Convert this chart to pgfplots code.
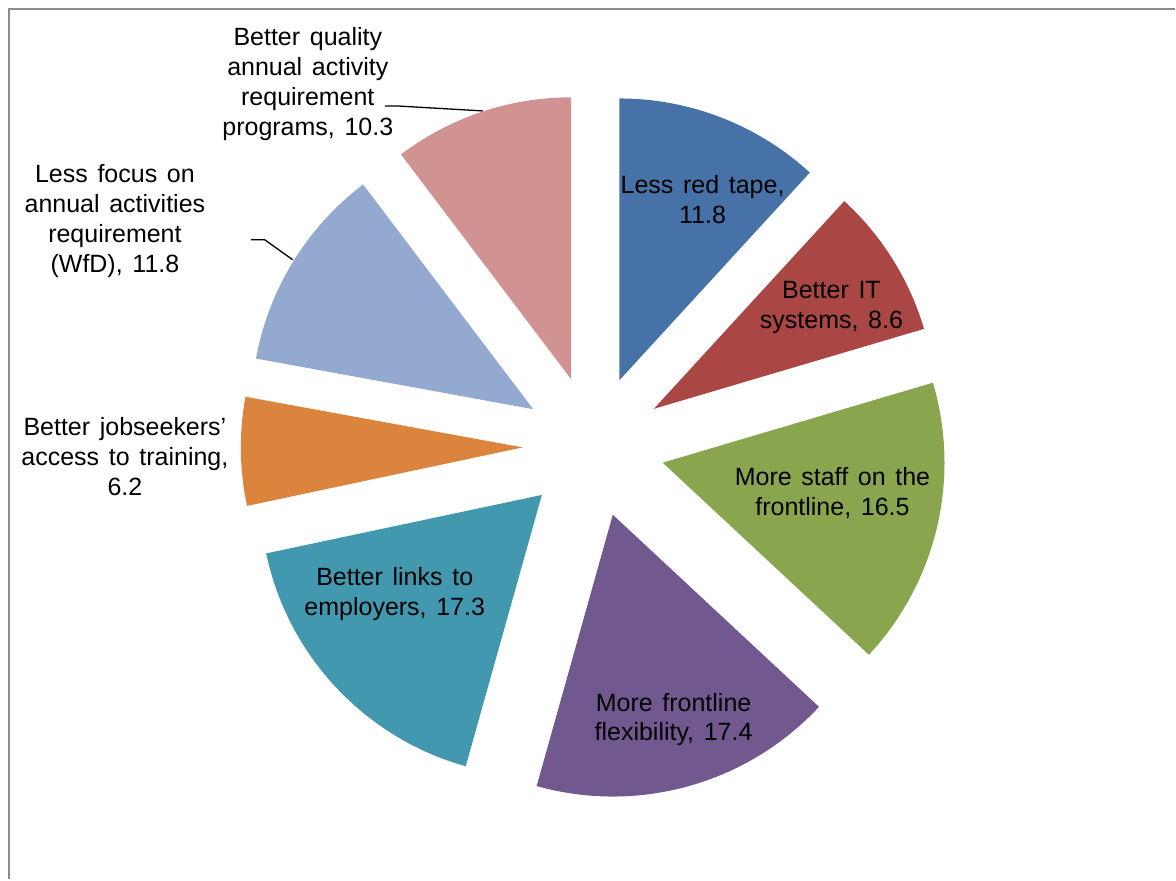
\documentclass[border=0pt]{standalone}
\usepackage{fontspec}
\setmainfont{Liberation Sans}[WordSpace=1.4]
\usepackage{pgfplots}
\usepackage{pgfplotstable}
\pgfplotsset{compat=1.18}

\definecolor{sBlue}{HTML}{4672A8}
\definecolor{sRed}{HTML}{AA4643}
\definecolor{sGreen}{HTML}{89A54E}
\definecolor{sPurple}{HTML}{71588F}
\definecolor{sTeal}{HTML}{4198AF}
\definecolor{sOrange}{HTML}{DB843D}
\definecolor{sLBlue}{HTML}{93A9CF}
\definecolor{sPink}{HTML}{D19392}
\definecolor{frame}{HTML}{8C8C8C}

% slices clockwise from 12 o'clock
\pgfplotstableread[col sep=comma]{
value,col
11.8,sBlue
8.6,sRed
16.5,sGreen
17.4,sPurple
17.3,sTeal
6.2,sOrange
11.8,sLBlue
10.3,sPink
}\piedata

\begin{document}
\begin{tikzpicture}[lbl/.style={align=center, inner sep=0pt,
    font=\fontsize{25}{30}\selectfont}]
% pie geometry (px = pt)
\def\piecx{594}\def\piecy{433.3}\def\pieR{282}\def\pieD{71}
\xdef\tot{0}
\pgfplotsforeachungrouped \i in {0,...,7}{%
  \pgfplotstablegetelem{\i}{value}\of\piedata
  \pgfmathsetmacro\tmp{\tot+\pgfplotsretval}\xdef\tot{\tmp}}
\xdef\cum{0}
\pgfplotsforeachungrouped \i in {0,...,7}{%
  \pgfplotstablegetelem{\i}{value}\of\piedata
  \pgfmathsetmacro\sa{90-(\cum/\tot)*360}
  \pgfmathsetmacro\tmp{\cum+\pgfplotsretval}\xdef\cum{\tmp}
  \pgfmathsetmacro\ea{90-(\cum/\tot)*360}
  \pgfmathsetmacro\ma{(\sa+\ea)/2}
  \pgfmathsetmacro\vx{\piecx+\pieD*cos(\ma)}
  \pgfmathsetmacro\vy{\piecy+\pieD*sin(\ma)}
  \expandafter\xdef\csname pieSA\i\endcsname{\sa}
  \expandafter\xdef\csname pieEA\i\endcsname{\ea}
  \expandafter\xdef\csname pieVX\i\endcsname{\vx}
  \expandafter\xdef\csname pieVY\i\endcsname{\vy}
  \pgfplotstablegetelem{\i}{col}\of\piedata
  \expandafter\xdef\csname pieC\i\endcsname{\pgfplotsretval}}
\begin{axis}[
  scale only axis, width=1176pt, height=880pt,
  xmin=0, xmax=1176, ymin=0, ymax=880,
  hide axis, clip=false,
]
\path (axis cs:0,0) rectangle (axis cs:1176,880);
\draw[frame, line width=1.5pt] (axis cs:9,0) -- (axis cs:9,871) -- (axis cs:1176,871);
\pgfplotsinvokeforeach{0,...,7}{%
  \edef\temp{\noexpand\fill[fill=\csname pieC#1\endcsname]
    (axis cs:\csname pieVX#1\endcsname,\csname pieVY#1\endcsname)
    -- ++(\csname pieSA#1\endcsname:\pieR pt)
    arc[start angle=\csname pieSA#1\endcsname, end angle=\csname pieEA#1\endcsname, radius=\pieR pt]
    -- cycle;}\temp
}
\node[lbl] at (axis cs:703,680) {Less red tape,\\11.8};
\node[lbl] at (axis cs:832,572.5) {Better IT\\systems, 8.6};
\node[lbl] at (axis cs:833,387) {More staff on the\\frontline, 16.5};
\node[lbl] at (axis cs:674,160) {More frontline\\flexibility, 17.4};
\node[lbl] at (axis cs:395,286) {Better links to\\employers, 17.3};
\node[lbl] at (axis cs:125,423) {Better jobseekers’\\access to training,\\6.2};
\node[lbl] at (axis cs:115,659) {Less focus on\\annual activities\\requirement\\(WfD), 11.8};
\node[lbl] at (axis cs:308,796) {Better quality\\annual activity\\requirement\\programs, 10.3};
\draw[line width=1.3pt] (axis cs:385,774) -- (axis cs:397,774) -- (axis cs:483,769);
\draw[line width=1.3pt] (axis cs:251,640) -- (axis cs:265,640) -- (axis cs:293,620);
\end{axis}
\end{tikzpicture}
\end{document}
